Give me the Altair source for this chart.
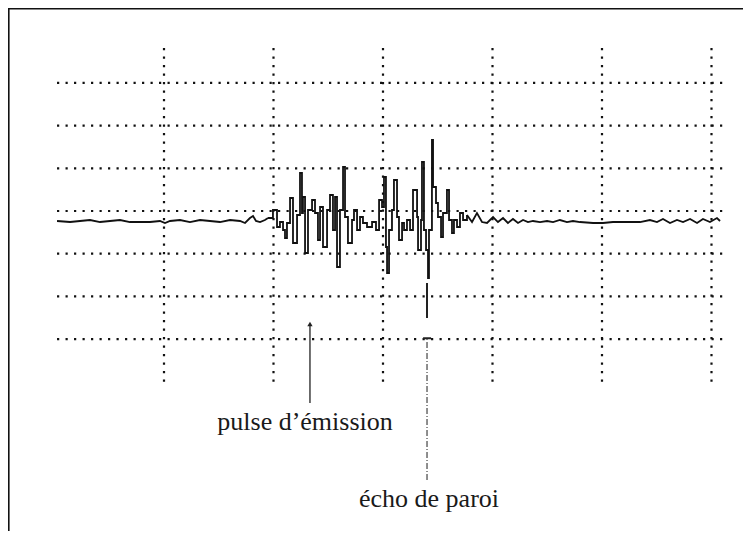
import altair as alt
import pandas as pd

# Oscilloscope trace: time (divisions) and amplitude (divisions)
trace_t = [0.023, 0.142, 0.233, 0.324, 0.416, 0.507, 0.598, 0.689, 0.872, 0.963,
           1.009, 1.055, 1.146, 1.237, 1.329, 1.420, 1.511, 1.603, 1.694, 1.740,
           1.785, 1.813, 1.840, 1.877, 1.922, 1.950, 1.995, 2.032, 2.059, 2.087,
           2.105, 2.123, 2.151, 2.178, 2.215, 2.242, 2.260, 2.269, 2.288, 2.315,
           2.352, 2.379, 2.406, 2.425, 2.452, 2.489, 2.516, 2.543, 2.562, 2.580,
           2.607, 2.635, 2.653, 2.680, 2.717, 2.735, 2.763, 2.790, 2.817, 2.854,
           2.900, 2.936, 2.964, 2.991, 3.009, 3.027, 3.037, 3.055, 3.082, 3.100,
           3.128, 3.146, 3.174, 3.192, 3.219, 3.247, 3.274, 3.311, 3.320, 3.347,
           3.356, 3.374, 3.393, 3.411, 3.420, 3.447, 3.457, 3.484, 3.502, 3.530,
           3.548, 3.584, 3.603, 3.630, 3.648, 3.676, 3.703, 3.731, 3.767, 3.813,
           3.858, 3.904, 3.950, 4.005, 4.050, 4.096, 4.141, 4.187, 4.233, 4.279,
           4.324, 4.370, 4.434, 4.498, 4.553, 4.616, 4.680, 4.735, 4.799, 4.918,
           5.009, 5.100, 5.228, 5.347, 5.438, 5.502, 5.557, 5.621, 5.685, 5.740,
           5.804, 5.868, 5.922, 5.986, 6.050, 6.078]
trace_v = [-0.234, -0.258, -0.234, -0.211, -0.258, -0.234, -0.211, -0.258, -0.258, -0.234,
           -0.281, -0.234, -0.211, -0.258, -0.211, -0.234, -0.258, -0.211, -0.234, -0.281,
           -0.164, -0.117, -0.234, -0.258, -0.211, -0.164, 0.023, -0.375, -0.258, -0.445,
           -0.632, -0.281, 0.304, -0.749, -0.094, 0.890, -0.047, 0.328, -0.984, 0.023,
           0.258, -0.047, -0.679, 0.094, -0.843, 0.023, 0.375, -0.445, 0.328, -1.311,
           0.023, 1.030, -0.141, -0.749, -0.211, 0.023, -0.445, -0.141, -0.281, -0.375,
           -0.258, -0.445, 0.258, 0.094, 0.796, -0.843, -1.452, -0.445, 0.023, 0.726,
           -0.141, -0.679, -0.281, -0.445, -0.211, -0.445, 0.492, -0.141, -0.913, -0.211,
           1.148, -0.445, -0.913, -1.569, -0.445, 1.663, 0.562, 0.187, -0.141, -0.609,
           -0.047, 0.492, -0.211, -0.515, -0.211, -0.375, -0.047, -0.211, -0.094, -0.258,
           -0.047, -0.258, -0.281, -0.141, -0.258, -0.164, -0.281, -0.187, -0.281, -0.211,
           -0.258, -0.234, -0.258, -0.234, -0.258, -0.211, -0.258, -0.234, -0.258, -0.281,
           -0.281, -0.258, -0.258, -0.258, -0.211, -0.258, -0.187, -0.281, -0.211, -0.258,
           -0.187, -0.281, -0.187, -0.258, -0.164, -0.234]
# the burst part (drawn with vertical transitions) runs between these sample indices
burst_first = 25
burst_last = 98

# Graticule
grid_h_levels = [3, 2, 1, 0, -1, -2, -3]
grid_h_start = 0.023
grid_h_end = 6.105
grid_v_positions = [1, 2, 3, 4, 5, 6]
grid_v_top = 3.89
grid_v_bottom = -4.0

# Annotations
label_text = ["pulse d\u2019\u00e9mission", "\u00e9cho de paroi"]
label_t = [2.288, 3.420]
label_v = [-5.129, -6.932]

pulse_ptr_t = 2.333
pulse_ptr_top = -2.646
pulse_ptr_bottom = -4.496

echo_ptr_t = 3.402
echo_solid_top = -1.686
echo_solid_bottom = -2.506
echo_tick_v = -2.98
echo_tick_left = 3.366
echo_tick_right = 3.439
echo_dash_bottom = -6.30

W, H = 735, 523
xs = alt.Scale(domain=[-0.4247, 6.2877], nice=False, zero=False)
ys = alt.Scale(domain=[-7.494, 4.754], nice=False, zero=False)

idx = list(range(len(trace_t)))
trace_df = pd.DataFrame({"t": trace_t, "v": trace_v, "i": idx})
left_df = trace_df[trace_df.i <= burst_first]
burst_df = trace_df[(trace_df.i >= burst_first) & (trace_df.i <= burst_last)]
right_df = trace_df[trace_df.i >= burst_last]

gh_df = pd.DataFrame({"v": grid_h_levels, "t0": grid_h_start, "t1": grid_h_end})
gv_df = pd.DataFrame({"t": grid_v_positions, "v0": grid_v_bottom, "v1": grid_v_top})
lab_df = pd.DataFrame({"t": label_t, "v": label_v, "text": label_text})

dot = dict(color="#111", strokeWidth=2.2, strokeDash=[2.2, 6.3])
grid_h = alt.Chart(gh_df).mark_rule(**dot).encode(
    x=alt.X("t0:Q", scale=xs, axis=None), x2="t1:Q",
    y=alt.Y("v:Q", scale=ys, axis=None))
grid_v = alt.Chart(gv_df).mark_rule(**dot).encode(
    x=alt.X("t:Q", scale=xs, axis=None),
    y=alt.Y("v0:Q", scale=ys, axis=None), y2="v1:Q")


def trace_layer(df, interp):
    return alt.Chart(df).mark_line(color="#111", strokeWidth=1.8, interpolate=interp).encode(
        x=alt.X("t:Q", scale=xs, axis=None),
        y=alt.Y("v:Q", scale=ys, axis=None),
        order="i:Q")


trace_left = trace_layer(left_df, "linear")
trace_burst = trace_layer(burst_df, "step-after")
trace_right = trace_layer(right_df, "linear")

labels = alt.Chart(lab_df).mark_text(font="Liberation Serif", fontSize=26, color="#1a1a1a",
                                     align="center", baseline="alphabetic").encode(
    x=alt.X("t:Q", scale=xs, axis=None),
    y=alt.Y("v:Q", scale=ys, axis=None),
    text="text:N")

pulse_line = alt.Chart(pd.DataFrame({"t": [pulse_ptr_t], "a": [pulse_ptr_bottom], "b": [pulse_ptr_top]})).mark_rule(
    color="#222", strokeWidth=1.3).encode(
    x=alt.X("t:Q", scale=xs, axis=None), y=alt.Y("a:Q", scale=ys, axis=None), y2="b:Q")
pulse_head = alt.Chart(pd.DataFrame({"t": [pulse_ptr_t], "v": [pulse_ptr_top]})).mark_point(
    shape="triangle-up", filled=True, color="#222", size=28, opacity=1).encode(
    x=alt.X("t:Q", scale=xs, axis=None), y=alt.Y("v:Q", scale=ys, axis=None))

echo_solid = alt.Chart(pd.DataFrame({"t": [echo_ptr_t], "a": [echo_solid_bottom], "b": [echo_solid_top]})).mark_rule(
    color="#222", strokeWidth=2).encode(
    x=alt.X("t:Q", scale=xs, axis=None), y=alt.Y("a:Q", scale=ys, axis=None), y2="b:Q")
echo_tick = alt.Chart(pd.DataFrame({"a": [echo_tick_left], "b": [echo_tick_right], "v": [echo_tick_v]})).mark_rule(
    color="#222", strokeWidth=2).encode(
    x=alt.X("a:Q", scale=xs, axis=None), x2="b:Q", y=alt.Y("v:Q", scale=ys, axis=None))
echo_dash = alt.Chart(pd.DataFrame({"t": [echo_ptr_t], "a": [echo_dash_bottom], "b": [echo_tick_v]})).mark_rule(
    color="#444", strokeWidth=1.2, strokeDash=[6, 2, 1, 2]).encode(
    x=alt.X("t:Q", scale=xs, axis=None), y=alt.Y("a:Q", scale=ys, axis=None), y2="b:Q")

frame_top = alt.Chart(pd.DataFrame({"k": [0]})).mark_rule(color="#111", strokeWidth=1.6).encode(
    x=alt.value(0), x2=alt.value(W), y=alt.value(0.8))
frame_left = alt.Chart(pd.DataFrame({"k": [0]})).mark_rule(color="#111", strokeWidth=1.6).encode(
    x=alt.value(0.8), y=alt.value(0), y2=alt.value(H))

chart = alt.layer(grid_h, grid_v, trace_left, trace_burst, trace_right, labels,
                  pulse_line, pulse_head, echo_solid, echo_tick, echo_dash,
                  frame_top, frame_left).properties(
    width=W, height=H, autosize=alt.AutoSizeParams(type="none"), padding=0,
    background="white").configure_view(stroke=None)

chart.save("out.html", embed_options={"renderer": "svg", "actions": False})
